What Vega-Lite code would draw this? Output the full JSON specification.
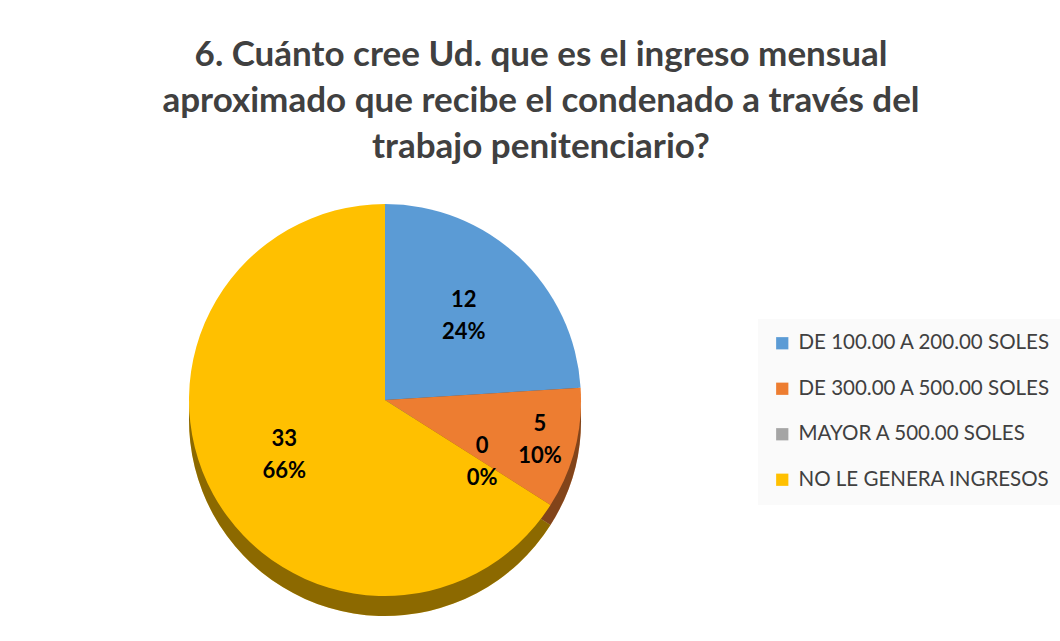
{
  "$schema": "https://vega.github.io/schema/vega-lite/v6.json",
  "width": 770,
  "height": 410,
  "padding": {"left": 0, "top": 38, "right": 0, "bottom": 20},
  "background": "white",
  "title": {
    "text": ["6. Cuánto cree Ud. que es el ingreso mensual", "aproximado que recibe el condenado a través del", "trabajo penitenciario?"],
    "font": "Lato",
    "fontSize": 35,
    "fontWeight": "bold",
    "lineHeight": 46,
    "color": "#404040",
    "anchor": "middle",
    "dx": 156,
    "offset": 30
  },
  "data": {
    "values": [
      {"orden": 1, "categoria": "DE 100.00 A 200.00 SOLES", "cantidad": 12, "pct": 0.24},
      {"orden": 2, "categoria": "DE 300.00 A 500.00 SOLES", "cantidad": 5, "pct": 0.10},
      {"orden": 3, "categoria": "MAYOR A 500.00 SOLES", "cantidad": 0, "pct": 0.0},
      {"orden": 4, "categoria": "NO LE GENERA INGRESOS", "cantidad": 33, "pct": 0.66}
    ]
  },
  "encoding": {
    "theta": {"field": "cantidad", "type": "quantitative", "stack": true},
    "order": {"field": "orden", "type": "quantitative"}
  },
  "layer": [
    {
      "mark": {"type": "arc", "outerRadius": 196, "yOffset": 20},
      "encoding": {
        "color": {
          "field": "categoria", "type": "nominal", "sort": null,
          "scale": {"domain": ["DE 100.00 A 200.00 SOLES", "DE 300.00 A 500.00 SOLES", "MAYOR A 500.00 SOLES", "NO LE GENERA INGRESOS"], "range": ["#5B9BD5", "#ED7D31", "#A5A5A5", "#FFC000"]},
          "legend": {
            "title": null,
            "orient": "none",
            "legendX": 758,
            "legendY": 124,
            "fillColor": "#fafafa",
            "padding": 14,
            "symbolType": "square",
            "symbolSize": 150,
            "symbolStrokeWidth": 0,
            "labelFont": "Lato",
            "labelFontSize": 20.5,
            "labelColor": "#404040",
            "labelLimit": 400,
            "rowPadding": 24.5,
            "labelOffset": 6
          }
        }
      }
    },
    {
      "mark": {"type": "arc", "outerRadius": 196, "yOffset": 20, "color": "black", "opacity": 0.45},
      "encoding": {}
    },
    {
      "mark": {"type": "arc", "outerRadius": 196},
      "encoding": {
        "color": {"field": "categoria", "type": "nominal", "sort": null}
      }
    },
    {
      "mark": {"type": "text", "radius": 115, "dy": -16, "font": "Lato", "fontSize": 22, "fontWeight": "bold", "color": "black"},
      "encoding": {
        "text": {"field": "cantidad", "type": "quantitative"},
        "opacity": {"condition": {"test": "datum.orden == 2", "value": 0}, "value": 1}
      }
    },
    {
      "mark": {"type": "text", "radius": 115, "dy": 16, "font": "Lato", "fontSize": 22, "fontWeight": "bold", "color": "black"},
      "encoding": {
        "text": {"field": "pct", "type": "quantitative", "format": ".0%"},
        "opacity": {"condition": {"test": "datum.orden == 2", "value": 0}, "value": 1}
      }
    },
    {
      "mark": {"type": "text", "radius": 160, "dy": -16, "font": "Lato", "fontSize": 22, "fontWeight": "bold", "color": "black"},
      "encoding": {
        "text": {"field": "cantidad", "type": "quantitative"},
        "opacity": {"condition": {"test": "datum.orden == 2", "value": 1}, "value": 0}
      }
    },
    {
      "mark": {"type": "text", "radius": 160, "dy": 16, "font": "Lato", "fontSize": 22, "fontWeight": "bold", "color": "black"},
      "encoding": {
        "text": {"field": "pct", "type": "quantitative", "format": ".0%"},
        "opacity": {"condition": {"test": "datum.orden == 2", "value": 1}, "value": 0}
      }
    }
  ],
  "config": {"view": {"stroke": null}}
}
